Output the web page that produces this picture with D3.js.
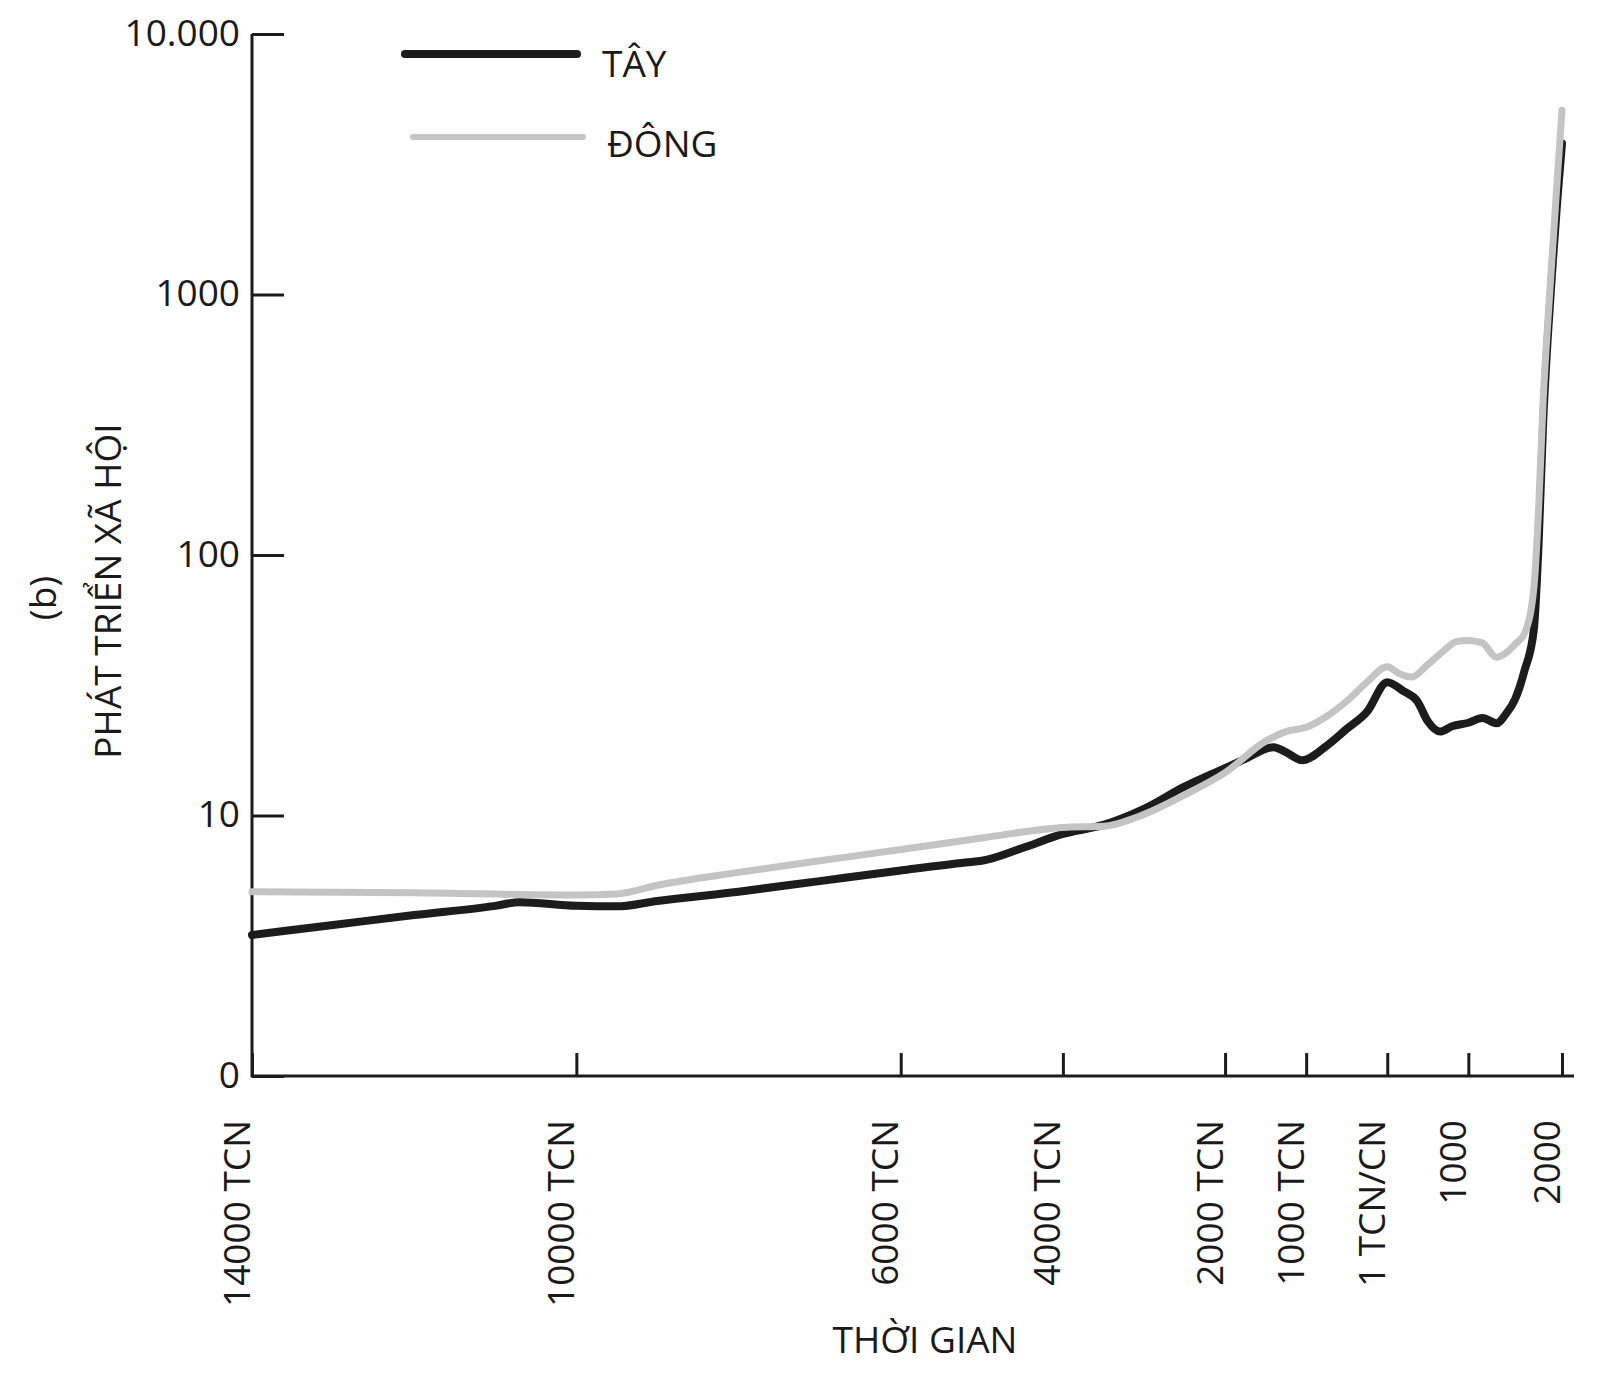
<!DOCTYPE html>
<html>
<head>
<meta charset="utf-8">
<script src="https://cdn.jsdelivr.net/npm/d3@7"></script>
<style>
  body { margin: 0; background: #fff; }
  svg text { font-family: "Open Sans", sans-serif; fill: #1a1a1a; }
</style>
</head>
<body>
<svg id="chart" width="1600" height="1379"></svg>
<script>
// values (log scale, bottom "0" = 1)
var westYears  = [-14000, -13000, -12000, -11000, -10700, -10000, -9500, -9000, -8000, -7000, -6000, -5200, -5000, -4500, -4000, -3500, -3000, -2500, -2000, -1750, -1400, -1250, -1050, -750, -500, -250, 0, 200, 370, 500, 650, 800, 1000, 1150, 1300, 1400, 1500, 1600, 1700, 1750, 1800, 1850, 1900, 1950, 2000];
var westValues = [3.48, 3.8, 4.15, 4.5, 4.65, 4.5, 4.48, 4.7, 5.1, 5.6, 6.15, 6.6, 6.7, 7.5, 8.5, 9.2, 10.6, 12.9, 15.2, 16.5, 18.3, 17.5, 16.3, 18.5, 21.5, 25, 32.5, 30, 27.5, 23, 21, 22, 22.7, 23.7, 22.6, 24.5, 28, 36, 52, 110, 330, 700, 1300, 2300, 3800];

var eastYears  = [-14000, -12000, -10000, -9500, -9000, -8000, -7000, -6000, -5000, -4000, -3500, -3000, -2500, -2000, -1500, -1250, -1000, -750, -500, -250, 0, 150, 300, 500, 700, 850, 1000, 1150, 1300, 1400, 1500, 1600, 1700, 1750, 1800, 1850, 1900, 1950, 2000];
var eastValues = [5.1, 5.05, 4.95, 5.0, 5.4, 6.05, 6.7, 7.4, 8.2, 9.0, 9.1, 10.1, 12.0, 14.6, 19.3, 21.0, 21.8, 24, 27.5, 32.5, 37.2, 35, 34, 38, 43, 46.5, 47, 46, 40.5, 42, 45.5, 50, 75, 150, 400, 800, 1500, 2800, 5100];

var xTickYears  = [-14000, -10000, -6000, -4000, -2000, -1000, 0, 1000, 2000];
var xTickLabels = ["14000 TCN", "10000 TCN", "6000 TCN", "4000 TCN", "2000 TCN", "1000 TCN", "1 TCN/CN", "1000", "2000"];
var yTickValues = [1, 10, 100, 1000, 10000];
var yTickLabels = ["0", "10", "100", "1000", "10.000"];

var seriesNames = ["TÂY", "ĐÔNG"];

var ink = "#1c1c1c", grey = "#c4c4c4";
var fontSize = 37;

var svg = d3.select("#chart");
var plotLeft = 252, plotTop = 34, plotBottom = 1076, plotW = 1310;

// time axis is near linear, last millennium a bit stretched
var x = d3.scaleLinear()
    .domain([-14000, 1000, 2000])
    .range([plotLeft, plotLeft + plotW * 0.9285, plotLeft + plotW]);
var y = d3.scaleLog().domain([1, 10000]).range([plotBottom, plotTop]);

// axis lines
svg.append("path")
    .attr("d", "M" + plotLeft + "," + plotTop + "V" + plotBottom + "H" + (plotLeft + plotW + 12))
    .attr("fill", "none").attr("stroke", ink).attr("stroke-width", 3);

var gx = svg.append("g").attr("transform", "translate(0," + plotBottom + ")")
    .call(d3.axisBottom(x).tickValues(xTickYears)
        .tickFormat(function (d, i) { return xTickLabels[i]; })
        .tickSizeInner(-23).tickSizeOuter(0));
gx.select(".domain").remove();
gx.selectAll("line").attr("stroke", ink).attr("stroke-width", 3);
gx.selectAll("text")
    .attr("transform", "rotate(-90)")
    .attr("x", -44).attr("y", -3).attr("dy", 0)
    .attr("text-anchor", "end")
    .style("font-size", fontSize + "px");

var gy = svg.append("g").attr("transform", "translate(" + plotLeft + ",0)")
    .call(d3.axisLeft(y).tickValues(yTickValues)
        .tickFormat(function (d, i) { return yTickLabels[i]; })
        .tickSizeInner(-32).tickSizeOuter(0).tickPadding(12));
gy.select(".domain").remove();
gy.selectAll("line").attr("stroke", ink).attr("stroke-width", 3);
gy.selectAll("text").style("font-size", fontSize + "px").attr("dy", "0.3em");

// lines
var line = d3.line()
    .x(function (d) { return x(d[0]); })
    .y(function (d) { return y(d[1]); })
    .curve(d3.curveMonotoneX);

svg.append("path")
    .datum(d3.zip(westYears, westValues))
    .attr("d", line)
    .attr("fill", "none").attr("stroke", ink).attr("stroke-width", 8)
    .attr("stroke-linejoin", "round").attr("stroke-linecap", "round");

svg.append("path")
    .datum(d3.zip(eastYears, eastValues))
    .attr("d", line)
    .attr("fill", "none").attr("stroke", grey).attr("stroke-width", 7)
    .attr("stroke-linejoin", "round").attr("stroke-linecap", "round");

// legend
var legend = svg.append("g");
[[ink, 8, 405, 577, 54, 602, 77], [grey, 6, 413, 583, 137, 607, 157]].forEach(function (l, i) {
    legend.append("line")
        .attr("x1", l[2]).attr("x2", l[3]).attr("y1", l[4]).attr("y2", l[4])
        .attr("stroke", l[0]).attr("stroke-width", l[1]).attr("stroke-linecap", "round");
    legend.append("text")
        .attr("x", l[5]).attr("y", l[6])
        .style("font-size", fontSize + "px")
        .text(seriesNames[i]);
});

// axis titles
svg.append("text")
    .attr("x", 925).attr("y", 1353)
    .attr("text-anchor", "middle")
    .style("font-size", fontSize + "px")
    .text("THỜI GIAN");

svg.append("text")
    .attr("transform", "translate(121,591) rotate(-90)")
    .attr("text-anchor", "middle")
    .style("font-size", fontSize + "px")
    .text("PHÁT TRIỂN XÃ HỘI");

svg.append("text")
    .attr("transform", "translate(56,598) rotate(-90)")
    .attr("text-anchor", "middle")
    .style("font-size", fontSize + "px")
    .text("(b)");
</script>
</body>
</html>
